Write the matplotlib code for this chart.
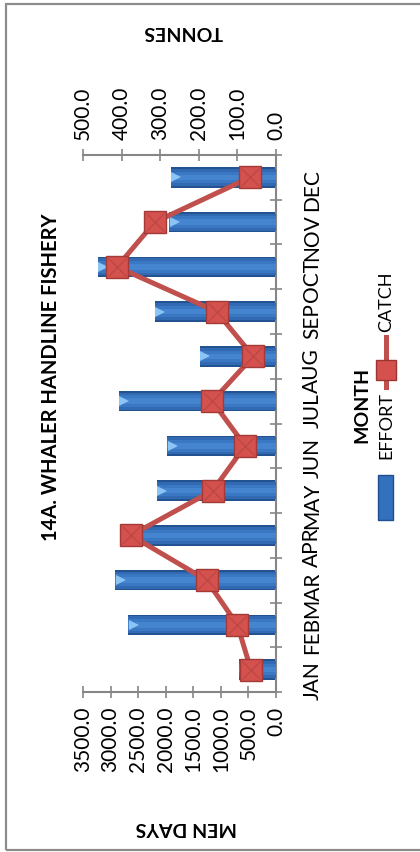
import matplotlib
matplotlib.use("Agg")
import matplotlib.pyplot as plt
import matplotlib.transforms as mtransforms
from matplotlib.patches import Rectangle
from matplotlib.lines import Line2D

plt.rcParams['font.family'] = ['Lato', 'DejaVu Sans']

# data
months = ["JAN", "FEB", "MAR", "APR", "MAY", "JUN",
          "JUL", "AUG", "SEP", "OCT", "NOV", "DEC"]
effort = [670, 2680, 2920, 2650, 2160, 1970, 2850, 1380, 2200, 3230, 1940, 1910]   # men days
catch = [65, 100, 180, 376, 164, 80, 165, 59, 154, 412, 314, 67]                    # tonnes
effort_ticks = [0, 500, 1000, 1500, 2000, 2500, 3000, 3500]
catch_ticks = [0, 100, 200, 300, 400, 500]

W, H = 420, 852
fig = plt.figure(figsize=(W / 100, H / 100), dpi=100)
fig.patch.set_facecolor("white")

# outer chart border (right edge runs off the picture)
fig.add_artist(Rectangle((6 / W, 2.5 / H), 1.0, (846 / H), transform=fig.transFigure,
                         fill=False, edgecolor="#8c8c8c", linewidth=1.6))

ax = fig.add_axes([83 / W, 1 - 692 / H, 193 / W, 537 / H])
ypos = list(range(len(months)))

# effort bars, layered to fake the bevel look
ax.barh(ypos, effort, height=0.46, color="#22528f", zorder=2)
ax.barh(ypos, effort, height=0.38, color="#3169b3", zorder=3)
ax.barh(ypos, effort, height=0.26, color="#3b78c4", zorder=4)
ax.barh(ypos, effort, height=0.12, color="#4584cf", zorder=4)
cap_off = mtransforms.ScaledTranslation(4 / 72, 0, fig.dpi_scale_trans)
ax.plot(effort, ypos, ">", ms=7, color="#8cc4f5", mew=0, zorder=5,
        transform=ax.transData + cap_off)

ax.set_xlim(3500, 0)
ax.set_ylim(-0.5, len(months) - 0.5)
ax.set_xticks(effort_ticks)
ax.set_xticklabels([f"{v:.1f}" for v in effort_ticks], rotation=90, fontsize=15)
ax.tick_params(axis="x", direction="inout", length=9, width=1.2, color="#868686", pad=6)

ax.yaxis.tick_right()
ax.set_yticks([i - 0.5 for i in range(len(months) + 1)])
ax.set_yticklabels([])
ax.set_yticks(ypos, minor=True)
ax.set_yticklabels(months, minor=True, rotation=90, fontsize=15)
ax.tick_params(axis="y", which="major", direction="inout", length=9, width=1.2, color="#868686")
ax.tick_params(axis="y", which="minor", length=0, pad=19)

for s in ["left", "top"]:
    ax.spines[s].set_visible(False)
for s in ["bottom", "right"]:
    ax.spines[s].set_color("#868686")
    ax.spines[s].set_linewidth(1.5)

# catch on the second value axis
ax2 = ax.twiny()
ax2.set_xlim(500, 0)
ax2.plot(catch, ypos, "-", color="#c0504d", lw=3.6, zorder=6)
ax2.plot(catch, ypos, "s", ms=15.5, mfc="#d4514d", mec="#a33a37", mew=1, zorder=7)
ax2.plot(catch, ypos, "x", ms=13, color="#bd4744", mew=1.0, zorder=8)
ax2.set_xticks(catch_ticks)
ax2.set_xticklabels([f"{v:.1f}" for v in catch_ticks], rotation=90, fontsize=15)
ax2.tick_params(axis="x", direction="inout", length=9, width=1.2, color="#868686", pad=6)
for s in ["left", "bottom", "right"]:
    ax2.spines[s].set_visible(False)
ax2.spines["top"].set_color("#868686")
ax2.spines["top"].set_linewidth(1.5)

# titles
fig.text(51 / W, 1 - 377 / H, "14A. WHALER HANDLINE FISHERY", rotation=90,
         ha="center", va="center", fontsize=14.5, fontweight="bold")
fig.text(362 / W, 1 - 405 / H, "MONTH", rotation=90,
         ha="center", va="center", fontsize=14, fontweight="bold")
fig.text(186 / W, 1 - 828 / H, "MEN DAYS", rotation=180,
         ha="center", va="center", fontsize=14, fontweight="bold")
fig.text(183 / W, 1 - 32 / H, "TONNES", rotation=180,
         ha="center", va="center", fontsize=14, fontweight="bold")

# legend, drawn by hand because it is rotated
fig.add_artist(Rectangle((378 / W, 1 - 520 / H), 15 / W, 45 / H, transform=fig.transFigure,
                         facecolor="#3370bd", edgecolor="#1f4f8f", linewidth=1))
fig.text(386 / W, 1 - 425 / H, "EFFORT", rotation=90, ha="center", va="center", fontsize=13)
fig.add_artist(Line2D([386 / W, 386 / W], [1 - 387 / H, 1 - 337 / H], transform=fig.transFigure,
                      color="#c0504d", lw=3.6))
fig.add_artist(Line2D([386 / W], [1 - 370 / H], transform=fig.transFigure, marker="s", ms=15,
                      mfc="#d4514d", mec="#9c3431", mew=1))
fig.text(386 / W, 1 - 302 / H, "CATCH", rotation=90, ha="center", va="center", fontsize=13)

fig.savefig("out.png", dpi=100)
